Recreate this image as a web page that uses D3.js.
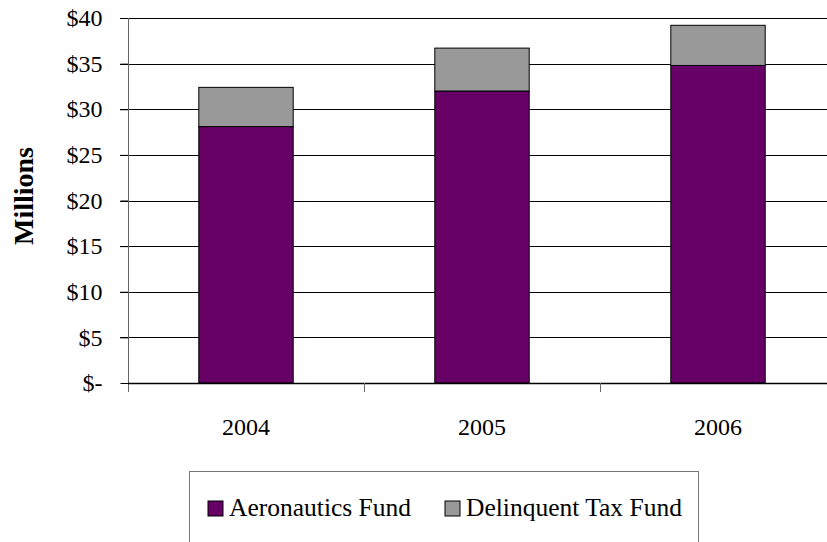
<!DOCTYPE html>
<html>
<head>
<meta charset="utf-8">
<script src="https://cdn.jsdelivr.net/npm/d3@7"></script>
<style>
  body { margin: 0; background: #fff; overflow: hidden; }
  svg { display: block; font-family: "Liberation Serif", "Times New Roman", serif; }
</style>
</head>
<body>
<svg id="chart" width="827" height="542"></svg>
<script>
// data (millions of dollars)
const years = ["2004", "2005", "2006"];
const aeronautics = [28.1, 32.0, 34.8];
const delinquentTax = [4.3, 4.7, 4.4];
const seriesNames = ["Aeronautics Fund", "Delinquent Tax Fund"];
const seriesColors = ["#660066", "#999999"];
const yTicks = [0, 5, 10, 15, 20, 25, 30, 35, 40];

const svg = d3.select("#chart");

// plot area (runs a little past the right edge, like the original)
const plot = { left: 128, right: 836, top: 18, bottom: 383 };

const x = d3.scaleBand()
  .domain(years)
  .range([plot.left, plot.right])
  .paddingInner(0)
  .paddingOuter(0);

const y = d3.scaleLinear()
  .domain([0, 40])
  .range([plot.bottom, plot.top]);

// horizontal grid lines
svg.append("g")
  .selectAll("line")
  .data(yTicks.filter(d => d > 0))
  .enter().append("line")
    .attr("x1", plot.left - 8)
    .attr("x2", plot.right)
    .attr("y1", d => Math.round(y(d)) + 0.5)
    .attr("y2", d => Math.round(y(d)) + 0.5)
    .attr("stroke", "#000")
    .attr("stroke-width", 1);

// stacked bars
const stackData = years.map((yr, i) => ({ year: yr, a: aeronautics[i], d: delinquentTax[i] }));
const stacked = d3.stack().keys(["a", "d"])(stackData);
const barW = x.bandwidth() * 0.4;

svg.append("g")
  .selectAll("g")
  .data(stacked)
  .enter().append("g")
    .attr("fill", (d, i) => seriesColors[i])
  .selectAll("rect")
  .data(d => d)
  .enter().append("rect")
    .attr("x", d => x(d.data.year) + (x.bandwidth() - barW) / 2)
    .attr("width", barW)
    .attr("y", d => y(d[1]))
    .attr("height", d => y(d[0]) - y(d[1]))
    .attr("stroke", "#000")
    .attr("stroke-width", 1);

// y axis
const yAxis = d3.axisLeft(y)
  .tickValues(yTicks)
  .tickSize(8)
  .tickPadding(18)
  .tickFormat(d => d === 0 ? "$-" : "$" + d);

const gy = svg.append("g")
  .attr("transform", `translate(${plot.left + 0.5},0)`)
  .call(yAxis);
gy.select(".domain").remove();
gy.selectAll(".tick line").attr("stroke", "#000");
gy.selectAll(".tick text")
  .attr("font-family", "'Liberation Serif', serif")
  .attr("font-size", 24)
  .attr("fill", "#000");

svg.append("line")
  .attr("x1", plot.left + 0.5).attr("x2", plot.left + 0.5)
  .attr("y1", plot.top).attr("y2", plot.bottom + 9)
  .attr("stroke", "#666").attr("stroke-width", 1);

// x axis
svg.append("line")
  .attr("x1", plot.left).attr("x2", plot.right)
  .attr("y1", plot.bottom + 0.5).attr("y2", plot.bottom + 0.5)
  .attr("stroke", "#000").attr("stroke-width", 1.5);

svg.append("g")
  .selectAll("line")
  .data(years.slice(1))
  .enter().append("line")
    .attr("x1", d => Math.round(x(d)) + 0.5)
    .attr("x2", d => Math.round(x(d)) + 0.5)
    .attr("y1", plot.bottom)
    .attr("y2", plot.bottom + 9)
    .attr("stroke", "#666");

svg.append("g")
  .selectAll("text")
  .data(years)
  .enter().append("text")
    .attr("x", d => x(d) + x.bandwidth() / 2)
    .attr("y", 435)
    .attr("text-anchor", "middle")
    .attr("font-size", 24)
    .text(d => d);

// y title
svg.append("text")
  .attr("transform", "translate(33,196) rotate(-90)")
  .attr("text-anchor", "middle")
  .attr("font-size", 28)
  .attr("font-weight", "bold")
  .text("Millions");

// legend
const legend = svg.append("g");
legend.append("rect")
  .attr("x", 189.5).attr("y", 471.5)
  .attr("width", 509).attr("height", 100)
  .attr("fill", "#fff")
  .attr("stroke", "#777");

const legendX = [208, 445];
const items = legend.selectAll("g.item")
  .data(seriesNames)
  .enter().append("g")
    .attr("class", "item")
    .attr("transform", (d, i) => `translate(${legendX[i]},501)`);
items.append("rect")
  .attr("width", 15).attr("height", 15)
  .attr("fill", (d, i) => seriesColors[i])
  .attr("stroke", "#000");
items.append("text")
  .attr("x", 21).attr("y", 15)
  .attr("font-size", 25.5)
  .text(d => d);
</script>
</body>
</html>
